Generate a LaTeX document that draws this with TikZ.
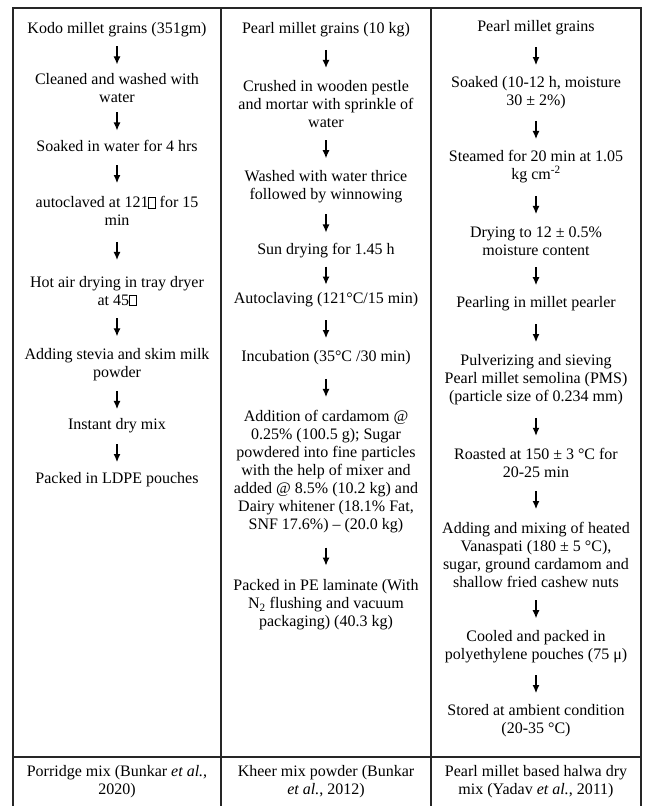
\documentclass[tikz,border=0pt]{standalone}
\usepackage{fontspec}
\setmainfont{Liberation Serif}
\usetikzlibrary{arrows.meta,calc}
\newcommand{\nochar}{{\fboxsep=0pt\fboxrule=0.6pt\fbox{\rule{0pt}{10pt}\kern6pt}}}

\begin{document}
\begin{tikzpicture}[x=1pt,y=-1pt,
    stage/.style={align=center,inner xsep=1pt,inner ysep=5pt,font=\fontsize{16}{18}\selectfont},
    flow/.style={-{Latex[length=8pt,width=7pt]},line width=1.1pt,
        to path={([yshift=9pt]$(\tikztostart.south)!0.5!(\tikztotarget.north)$)
                 -- ([yshift=-9pt]$(\tikztostart.south)!0.5!(\tikztotarget.north)$)}},
    grid/.style={line width=1.3pt,black!85}]
    \useasboundingbox (0,0) rectangle (645,806);

    % table lines
    \draw[grid] (13,806) -- (13,8) -- (641,8) -- (641,806);
    \draw[grid] (221,8) -- (221,806);
    \draw[grid] (431,8) -- (431,806);
    \draw[grid] (13,757) -- (641,757);

    % porridge mix
    \node[stage] (k1) at (117,30) {Kodo millet grains (351gm)};
    \node[stage] (k2) at (117,88) {Cleaned and washed with\\water};
    \node[stage] (k3) at (117,146) {Soaked in water for 4 hrs};
    \node[stage] (k4) at (117,211) {autoclaved at 121\nochar{} for 15\\min};
    \node[stage] (k5) at (117,291) {Hot air drying in tray dryer\\at 45\nochar};
    \node[stage] (k6) at (117,365) {Adding stevia and skim milk\\powder};
    \node[stage] (k7) at (117,426) {Instant dry mix};
    \node[stage] (k8) at (117,480) {Packed in LDPE pouches};

    % kheer mix
    \node[stage] (p1) at (326,30) {Pearl millet grains (10 kg)};
    \node[stage] (p2) at (326,104) {Crushed in wooden pestle\\and mortar with sprinkle of\\water};
    \node[stage] (p3) at (326,187) {Washed with water thrice\\followed by winnowing};
    \node[stage] (p4) at (326,251) {Sun drying for 1.45 h};
    \node[stage] (p5) at (326,300) {Autoclaving (121°C/15 min)};
    \node[stage] (p6) at (326,358) {Incubation (35°C /30 min)};
    \node[stage] (p7) at (326,472) {Addition of cardamom @\\0.25\% (100.5 g); Sugar\\powdered into fine particles\\with the help of mixer and\\added @ 8.5\% (10.2 kg) and\\Dairy whitener (18.1\% Fat,\\SNF 17.6\%) -- (20.0 kg)};
    \node[stage] (p8) at (326,605) {Packed in PE laminate (With\\N\textsubscript{2} flushing and vacuum\\packaging) (40.3 kg)};

    % halwa dry mix
    \node[stage] (h1) at (536,28) {Pearl millet grains};
    \node[stage] (h2) at (536,93) {Soaked (10-12 h, moisture\\30 ± 2\%)};
    \node[stage] (h3) at (536,167) {Steamed for 20 min at 1.05\\kg cm\textsuperscript{-2}};
    \node[stage] (h4) at (536,241) {Drying to 12 ± 0.5\%\\moisture content};
    \node[stage] (h5) at (536,304) {Pearling in millet pearler};
    \node[stage] (h6) at (536,380) {Pulverizing and sieving\\Pearl millet semolina (PMS)\\(particle size of 0.234 mm)};
    \node[stage] (h7) at (536,463) {Roasted at 150 ± 3 °C for\\20-25 min};
    \node[stage] (h8) at (536,555) {Adding and mixing of heated\\Vanaspati (180 ± 5 °C),\\sugar, ground cardamom and\\shallow fried cashew nuts};
    \node[stage] (h9) at (536,647) {Cooled and packed in\\polyethylene pouches (75 μ)};
    \node[stage] (h10) at (536,721) {Stored at ambient condition\\(20-35 °C)};

    % products
    \node[stage] (r1) at (117,782) {Porridge mix (Bunkar \textit{et al.},\\2020)};
    \node[stage] (r2) at (326,782) {Kheer mix powder (Bunkar\\\textit{et al.}, 2012)};
    \node[stage] (r3) at (536,782) {Pearl millet based halwa dry\\mix (Yadav \textit{et al.}, 2011)};

    \foreach \a/\b in {k1/k2,k2/k3,k3/k4,k4/k5,k5/k6,k6/k7,k7/k8,
                       p1/p2,p2/p3,p3/p4,p4/p5,p5/p6,p6/p7,p7/p8,
                       h1/h2,h2/h3,h3/h4,h4/h5,h5/h6,h6/h7,h7/h8,h8/h9,h9/h10}
        \draw[flow] (\a) to (\b);
\end{tikzpicture}
\end{document}
